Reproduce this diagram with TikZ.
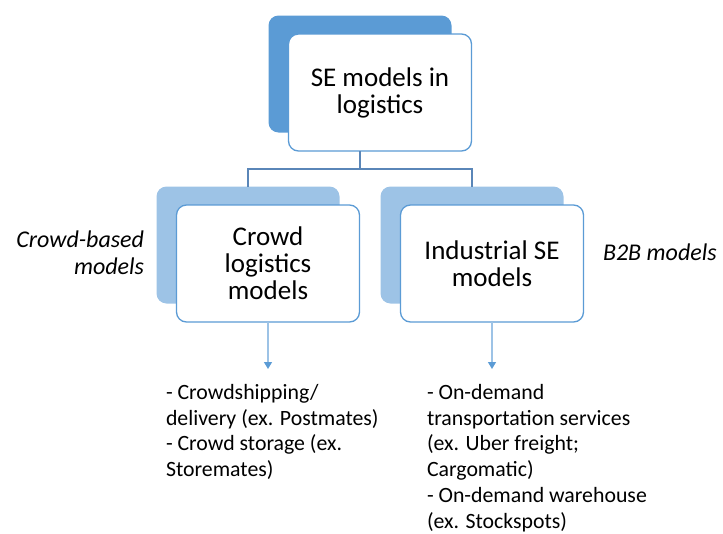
\documentclass[tikz,border=0pt]{standalone}
\usepackage{fontspec}
\setmainfont{Carlito}
\usetikzlibrary{arrows.meta}
\definecolor{accent}{HTML}{5B9BD5}
\definecolor{accentlt}{HTML}{9DC3E6}
\definecolor{linkcol}{HTML}{5A86B8}

\begin{document}
\begin{tikzpicture}[x=1pt,y=-1pt]
\tikzstyle{every node}=[inner sep=0pt, outer sep=0pt]
\tikzstyle{back}=[rounded corners=10pt, minimum width=183pt, minimum height=117pt]
\tikzstyle{front}=[back, draw=accent, line width=1.3pt, fill=white, align=center, font=\fontsize{27}{27}\selectfont]
\tikzstyle{list}=[align=left, inner ysep=15pt, font=\fontsize{21.8}{25.9}\selectfont]
\tikzstyle{side}=[font=\fontsize{24}{27}\selectfont\itshape]
\tikzstyle{link}=[draw=linkcol, line width=1.8pt]
\tikzstyle{arr}=[draw=accentlt, line width=1.3pt, -{Triangle[length=7pt,width=8pt,color=accent]}]
\useasboundingbox (0,0) rectangle (723,533);
% top level
\draw (360,74) node (topb) [back, fill=accent] {};
\draw (380,92.5) node (top) [front] {SE models in\\logistics};
% second level
\draw (248,245) node (crowdb) [back, fill=accentlt] {};
\draw (268,263.5) node (crowd) [front] {Crowd\\logistics\\models};
\draw (472,245) node (indb) [back, fill=accentlt] {};
\draw (492,263.5) node (ind) [front] {Industrial SE\\models};
% tree lines
\coordinate (fork) at (360,169);
\draw[link] (top.south -| fork) -- (fork);
\draw[link] (crowdb.north) |- (fork) -| (indb.north);
% examples below
\draw (166,369) node (crowdl) [list, anchor=north west] {- Crowdshipping/\\delivery (ex. Postmates)\\- Crowd storage (ex.\\Storemates)};
\draw (427,369) node (indl) [list, anchor=north west] {- On-demand\\transportation services\\(ex. Uber freight;\\Cargomatic)\\- On-demand warehouse\\(ex. Stockspots)};
\draw[arr] (crowd.south) -- (crowd.south |- crowdl.north);
\draw[arr] (ind.south) -- (ind.south |- indl.north);
% side labels
\draw (144,253) node (crowdlab) [side, anchor=east, align=right] {Crowd-based\\models};
\draw (603,252) node (b2blab) [side, anchor=west] {B2B models};
\end{tikzpicture}
\end{document}
